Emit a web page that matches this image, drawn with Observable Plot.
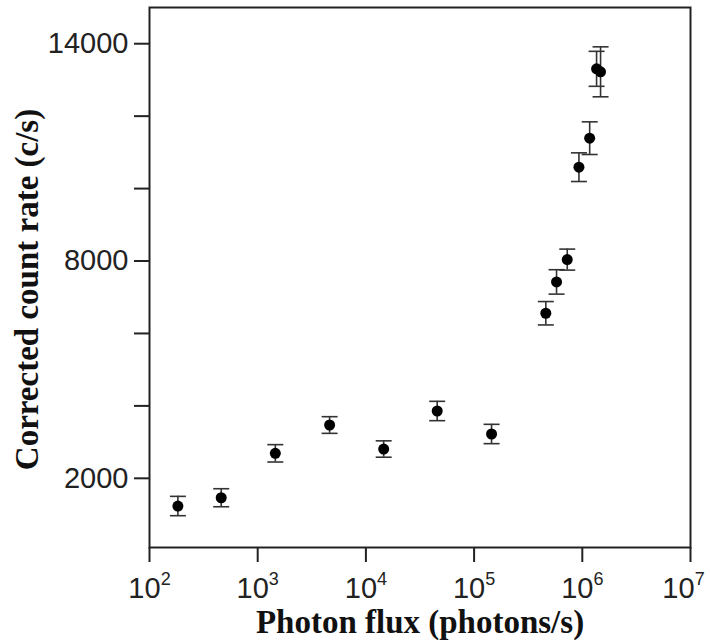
<!DOCTYPE html>
<html><head><meta charset="utf-8">
<script src="https://cdn.jsdelivr.net/npm/d3@7"></script>
<script src="https://cdn.jsdelivr.net/npm/@observablehq/plot@0.6"></script>
<style>body{margin:0;background:#fff;} #chart svg{display:block;}</style>
</head><body><div id="chart"></div>
<script>
// Data
const flux = [183, 460, 1455, 4620, 14600, 45600, 145000, 460000, 578000, 726000, 931000, 1170000, 1355000, 1475000];
const rate = [1235, 1464, 2690, 3472, 2809, 3859, 3224, 6558, 7423, 8039, 10591, 11392, 13307, 13224];
const err  = [267, 249, 240, 230, 226, 267, 267, 323, 337, 290, 396, 451, 483, 690];

const xTicks = [1e2, 1e3, 1e4, 1e5, 1e6, 1e7];
const yTicks = [2000, 4000, 6000, 8000, 10000, 12000, 14000];
const yLabeled = [2000, 8000, 14000];
const xTitle = "Photon flux (photons/s)";
const yTitle = "Corrected count rate (c/s)";

const data = flux.map((x, i) => ({x, y: rate[i], lo: rate[i] - err[i], hi: rate[i] + err[i]}));
const cap = {draw(ctx) { ctx.moveTo(-8, 0); ctx.lineTo(8, 0); }};
const titleFont = "'Liberation Serif', 'Times New Roman', serif";

const chart = Plot.plot({
  width: 710, height: 642,
  marginLeft: 149, marginRight: 20, marginTop: 7, marginBottom: 95,
  style: {fontFamily: "'Liberation Sans', Arial, sans-serif", fontSize: "29px", color: "#222", background: "#fff"},
  x: {type: "log", domain: [1e2, 1e7]},
  y: {domain: [90, 15000]},
  marks: [
    Plot.axisX({ticks: xTicks, tickSize: 15, tickPadding: 15, strokeWidth: 2,
      tickFormat: d => `10^${Math.round(Math.log10(d))}`, label: null}),
    Plot.axisY({ticks: yTicks, tickSize: 15, tickPadding: 6, strokeWidth: 2,
      tickFormat: d => yLabeled.includes(d) ? String(d) : "", label: null}),
    Plot.frame({stroke: "#222", strokeWidth: 2}),
    Plot.ruleX(data, {x: "x", y1: "lo", y2: "hi", stroke: "#333", strokeWidth: 1.6}),
    Plot.dot(data, {x: "x", y: "hi", symbol: cap, stroke: "#333", strokeWidth: 1.6, fill: "none"}),
    Plot.dot(data, {x: "x", y: "lo", symbol: cap, stroke: "#333", strokeWidth: 1.6, fill: "none"}),
    Plot.dot(data, {x: "x", y: "y", r: 5.5, fill: "#000", stroke: "none"}),
    Plot.text([xTitle], {text: d => d, frameAnchor: "bottom", dy: 75, lineAnchor: "middle", textAnchor: "middle",
      fontSize: 33, fontWeight: "bold", fontFamily: titleFont, fill: "#111"}),
    Plot.text([yTitle], {text: d => d, frameAnchor: "left", dx: -122, dy: 12, rotate: -90, lineAnchor: "middle", textAnchor: "middle",
      fontSize: 33, fontWeight: "bold", fontFamily: titleFont, fill: "#111"})
  ]
});

// superscript exponents on x tick labels
chart.querySelectorAll('g[aria-label="x-axis tick label"] text').forEach(t => {
  const s = t.textContent;
  if (!s.includes("^")) return;
  const [base, exp] = s.split("^");
  t.textContent = base;
  const ts = document.createElementNS("http://www.w3.org/2000/svg", "tspan");
  ts.setAttribute("dy", "-13");
  ts.setAttribute("font-size", "18");
  ts.textContent = exp;
  t.appendChild(ts);
  if (exp === "7") t.setAttribute("dx", "-7");
});

document.getElementById("chart").appendChild(chart);
</script>
</body></html>
